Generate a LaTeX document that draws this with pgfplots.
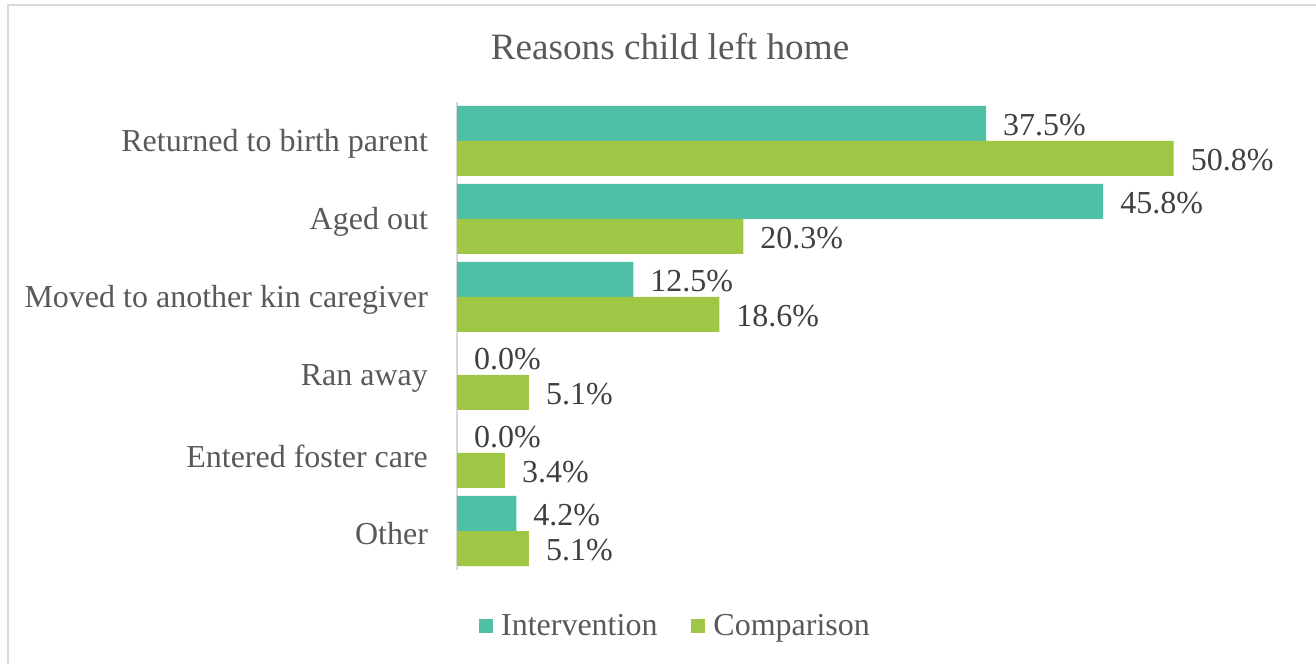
\documentclass[border=0pt]{standalone}
\usepackage{fontspec}
\setmainfont{Liberation Serif}
\usepackage{pgfplots}
\pgfplotsset{compat=1.18}
\definecolor{interv}{HTML}{4FBFA5}
\definecolor{compar}{HTML}{A0C645}
\definecolor{txt}{HTML}{595959}
\definecolor{lbl}{HTML}{404040}
\definecolor{brd}{HTML}{D9D9D9}
\begin{document}
\begin{tikzpicture}[x=1pt,y=1pt]
\path[use as bounding box] (0,0) rectangle (658,332);
\draw[brd,line width=1pt] (3.75,0) -- (3.75,329.25) -- (658,329.25);
\begin{axis}[
  at={(228.5pt,47pt)}, anchor=south west,
  scale only axis, width=388pt, height=234pt,
  xbar, bar width=17.5pt,
  xmin=0, xmax=55,
  ymin=-0.5, ymax=5.5,
  axis x line=none,
  axis y line*=left,
  y axis line style={brd, line width=1pt, -},
  ytick={0,1,2,3,4,5},
  yticklabels={Other, Entered foster care, Ran away, Moved to another kin caregiver, Aged out, Returned to birth parent},
  major tick length=0pt,
  yticklabel shift=11pt,
  yticklabel style={font=\fontsize{16}{19}\selectfont, text=txt, yshift=-1.5pt},
  clip=false,
  /pgf/number format/assume math mode=true,
  nodes near coords={\pgfmathprintnumber[fixed,fixed zerofill,precision=1,assume math mode=true]{\pgfplotspointmeta}\%},
  nodes near coords style={font=\fontsize{16}{19}\selectfont, text=lbl, anchor=west, xshift=5pt, yshift=-1pt},
  title={Reasons child left home},
  title style={at={(rel axis cs:0.2745,1.093)}, anchor=center, font=\fontsize{18.6}{22}\selectfont, text=txt},
  legend style={at={(rel axis cs:0.2816,-0.1197)}, anchor=center, draw=none, fill=none,
    legend columns=2, font=\fontsize{16}{19}\selectfont, text=txt,
    /tikz/every even column/.append style={column sep=16pt}},
  legend image code/.code={\fill[#1,draw=none] (0pt,-3.5pt) rectangle (7pt,3.5pt);},
  legend style={/tikz/every odd column/.append style={}, nodes={inner sep=1pt}},
]
\addplot[fill=interv, draw=none, bar shift=8.75pt] coordinates {
  (4.2,0) (0.0,1) (0.0,2) (12.5,3) (45.8,4) (37.5,5)};
\addplot[fill=compar, draw=none, bar shift=-8.75pt] coordinates {
  (5.1,0) (3.4,1) (5.1,2) (18.6,3) (20.3,4) (50.8,5)};
\legend{\hspace{3pt}Intervention, \hspace{3pt}Comparison}
\end{axis}
\end{tikzpicture}
\end{document}
